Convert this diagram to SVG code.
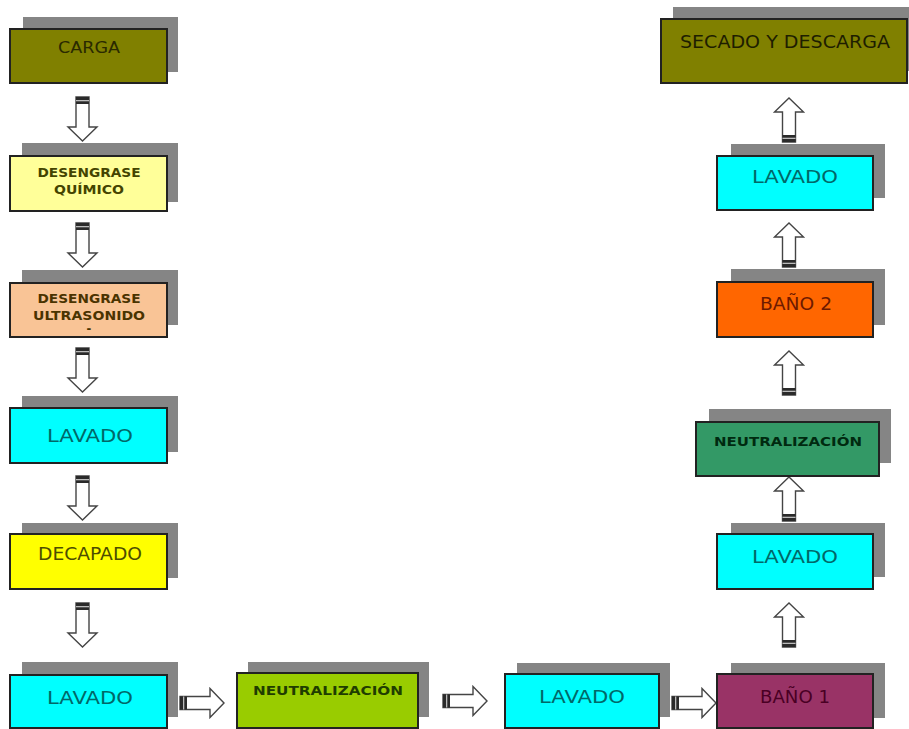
<svg xmlns="http://www.w3.org/2000/svg" xmlns:xlink="http://www.w3.org/1999/xlink" width="909" height="729" viewBox="0 0 909 729">
<style>
.sh{fill:#858585;}
.bx{stroke:#222;stroke-width:2;}
text{font-family:"DejaVu Sans","Liberation Sans",sans-serif;text-anchor:middle;}
.big{font-size:18px;}
.sm{font-size:11.5px;font-weight:bold;}
.lav{fill:#00ffff;}
.lavt{fill:#006868;}
.arr{fill:#fff;stroke:#444;stroke-width:1.4;}
</style>
<defs>
<g id="arrow">
<path class="arr" d="M-6.5,0 L6.5,0 L6.5,30 L14.5,30 L0,44 L-14.5,30 L-6.5,30 Z"/>
<rect x="-6.5" y="0" width="13" height="7" fill="#2a2a2a"/>
<rect x="-6.5" y="3" width="13" height="1.3" fill="#bbb"/>
</g>
</defs>
<g id="connectors">
<use xlink:href="#arrow" transform="translate(82.5,97)"/>
<use xlink:href="#arrow" transform="translate(82.5,223)"/>
<use xlink:href="#arrow" transform="translate(82.5,348)"/>
<use xlink:href="#arrow" transform="translate(82.5,476)"/>
<use xlink:href="#arrow" transform="translate(82.5,603)"/>
<use xlink:href="#arrow" transform="translate(180,703) rotate(-90)"/>
<use xlink:href="#arrow" transform="translate(443,701) rotate(-90)"/>
<use xlink:href="#arrow" transform="translate(672,703) rotate(-90)"/>
<use xlink:href="#arrow" transform="translate(789,647) rotate(180)"/>
<use xlink:href="#arrow" transform="translate(789,521) rotate(180)"/>
<use xlink:href="#arrow" transform="translate(789,395) rotate(180)"/>
<use xlink:href="#arrow" transform="translate(789,267) rotate(180)"/>
<use xlink:href="#arrow" transform="translate(789,142) rotate(180)"/>
</g>
<g id="carga">
<rect class="sh" x="23" y="17" width="155" height="55"/>
<rect class="bx" x="10" y="29" width="157" height="54" fill="#808000"/>
<text x="89" y="53" font-size="15" fill="#2a2a00" textLength="62" lengthAdjust="spacingAndGlyphs">CARGA</text>
</g>
<g id="desengrase-quimico">
<rect class="sh" x="22" y="143" width="156" height="59"/>
<rect class="bx" x="10" y="156" width="157" height="55" fill="#ffff99"/>
<text class="sm" x="89" y="177" fill="#444400" textLength="103" lengthAdjust="spacingAndGlyphs">DESENGRASE</text>
<text class="sm" x="89" y="194" fill="#444400" textLength="70" lengthAdjust="spacingAndGlyphs">QUÍMICO</text>
</g>
<g id="desengrase-ultrasonido">
<rect class="sh" x="22" y="270" width="156" height="55"/>
<rect class="bx" x="10" y="283" width="157" height="54" fill="#f9c496"/>
<text class="sm" x="89" y="303" fill="#4a3300" textLength="103" lengthAdjust="spacingAndGlyphs">DESENGRASE</text>
<text class="sm" x="89" y="320" fill="#4a3300" textLength="112" lengthAdjust="spacingAndGlyphs">ULTRASONIDO</text>
<text class="sm" x="89" y="333" fill="#4a3300">-</text>
</g>
<g id="lavado-1">
<rect class="sh" x="22" y="396" width="156" height="56"/>
<rect class="bx lav" x="10" y="408" width="157" height="55"/>
<text class="big lavt" x="90" y="442" textLength="86" lengthAdjust="spacingAndGlyphs">LAVADO</text>
</g>
<g id="decapado">
<rect class="sh" x="22" y="523" width="156" height="55"/>
<rect class="bx" x="10" y="534" width="157" height="55" fill="#ffff00"/>
<text x="90" y="560" font-size="18" fill="#4d4d00" textLength="104" lengthAdjust="spacingAndGlyphs">DECAPADO</text>
</g>
<g id="lavado-2">
<rect class="sh" x="22" y="662" width="156" height="55"/>
<rect class="bx lav" x="10" y="675" width="157" height="53"/>
<text class="big lavt" x="90" y="704" textLength="86" lengthAdjust="spacingAndGlyphs">LAVADO</text>
</g>
<g id="neutralizacion-1">
<rect class="sh" x="248" y="662" width="181" height="55"/>
<rect class="bx" x="237" y="673" width="181" height="55" fill="#99cc00"/>
<text class="sm" x="328" y="695" fill="#1f3d00" textLength="150" lengthAdjust="spacingAndGlyphs">NEUTRALIZACIÓN</text>
</g>
<g id="lavado-3">
<rect class="sh" x="517" y="663" width="153" height="54"/>
<rect class="bx lav" x="505" y="674" width="154" height="54"/>
<text class="big lavt" x="582" y="703" textLength="86" lengthAdjust="spacingAndGlyphs">LAVADO</text>
</g>
<g id="bano-1">
<rect class="sh" x="731" y="663" width="154" height="55"/>
<rect class="bx" x="717" y="674" width="156" height="54" fill="#993366"/>
<text class="big" x="795" y="703" fill="#4a0024" textLength="70" lengthAdjust="spacingAndGlyphs">BAÑO 1</text>
</g>
<g id="lavado-4">
<rect class="sh" x="731" y="523" width="154" height="54"/>
<rect class="bx lav" x="717" y="534" width="156" height="55"/>
<text class="big lavt" x="795" y="563" textLength="86" lengthAdjust="spacingAndGlyphs">LAVADO</text>
</g>
<g id="neutralizacion-2">
<rect class="sh" x="709" y="409" width="182" height="54"/>
<rect class="bx" x="696" y="422" width="183" height="54" fill="#339966"/>
<text class="sm" x="788" y="446" fill="#002a10" textLength="148" lengthAdjust="spacingAndGlyphs">NEUTRALIZACIÓN</text>
</g>
<g id="bano-2">
<rect class="sh" x="731" y="269" width="154" height="56"/>
<rect class="bx" x="717" y="282" width="156" height="55" fill="#ff6600"/>
<text class="big" x="796" y="310" fill="#6e1a00" textLength="72" lengthAdjust="spacingAndGlyphs">BAÑO 2</text>
</g>
<g id="lavado-5">
<rect class="sh" x="731" y="144" width="154" height="54"/>
<rect class="bx lav" x="717" y="156" width="156" height="54"/>
<text class="big lavt" x="795" y="183" textLength="86" lengthAdjust="spacingAndGlyphs">LAVADO</text>
</g>
<g id="secado">
<rect class="sh" x="673" y="7" width="236" height="64"/>
<rect class="bx" x="661" y="19" width="246" height="64" fill="#808000"/>
<text class="big" x="785" y="48" fill="#1e1e00" textLength="210" lengthAdjust="spacingAndGlyphs">SECADO Y DESCARGA</text>
</g>
</svg>
